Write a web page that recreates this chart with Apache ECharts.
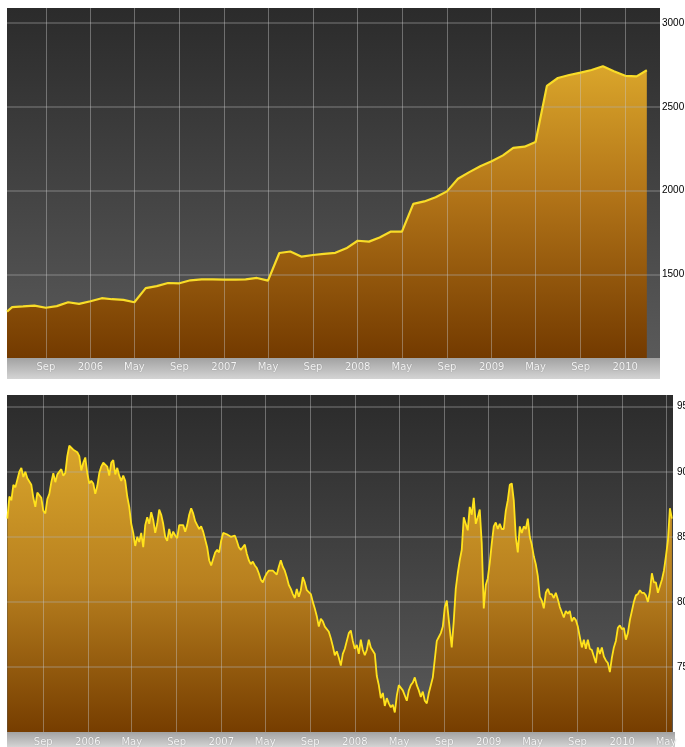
<!DOCTYPE html>
<html><head><meta charset="utf-8">
<script src="https://cdn.jsdelivr.net/npm/echarts@6/dist/echarts.min.js"></script>
<style>html,body{margin:0;padding:0;background:#fff}#c{width:685px;height:747px}</style>
</head><body><div id="c"></div>
<script>
// ---- data ----
const topRange = ['2005-05-18', '2010-04-06'];
const topFirstPoint = ['2005-05-18', 1277];
const topMonthlyStart = '2005-06-01';
const topMonthlyValues = [
  1304, 1308, 1313, 1300, 1310, 1333, 1323,
  1339, 1357, 1351, 1347, 1333, 1417, 1429, 1448, 1446, 1464, 1470, 1470,
  1468, 1468, 1470, 1478, 1462, 1627, 1636, 1605, 1615, 1622, 1628, 1655,
  1700, 1695, 1720, 1755, 1755, 1920, 1935, 1960, 1995, 2070, 2110, 2145,
  2175, 2210, 2255, 2262, 2290, 2625, 2672, 2690, 2704, 2720, 2742, 2712,
  2685, 2682, 2718
];
const topYTicks = [1500, 2000, 2500, 3000];

const bottomRange = ['2005-05-25', '2010-05-20'];
const bottomSegADates = ['2005-05-26', '2007-01-06'];
const bottomSegA = [
  86.4, 88.1, 87.8, 89.0, 88.8, 88.9, 90.0, 90.3, 89.6, 90.0,
  89.5, 89.6, 89.0, 88.0, 87.3, 88.4, 88.3, 88.0, 87.0, 86.8,
  87.9, 88.3, 89.2, 89.9, 89.2, 89.8, 89.8, 90.2, 89.7, 89.9,
  91.2, 92.0, 92.1, 91.7, 91.7, 91.5, 91.2, 90.1, 90.7, 91.1,
  89.9, 89.1, 89.3, 89.1, 88.3, 88.9, 89.9, 90.4, 90.7, 90.8,
  90.4, 89.7, 90.7, 90.9, 89.8, 90.3, 89.7, 89.3, 89.7, 89.3,
  88.1, 87.3, 86.0, 85.3, 84.3, 85.0, 84.6, 85.3, 84.2, 85.9,
  86.5, 86.0, 86.9, 86.3, 85.3, 86.0, 87.1, 86.7, 86.0, 85.0,
  84.7, 85.6, 84.9, 85.4, 85.1, 84.9, 85.9, 86.0, 85.9, 85.4,
  85.9, 86.7, 87.2, 86.8, 86.2, 85.9, 85.6, 85.8, 85.4, 85.5,
  84.2, 83.2, 82.8, 83.3, 83.8, 84.0, 83.8, 84.7, 85.3
];
const bottomSegBDates = ['2007-01-16', '2008-09-14'];
const bottomSegB = [
  85.2, 85.3, 85.0, 85.1, 85.1, 84.7, 84.2, 84.0, 84.2, 84.4,
  83.7, 83.2, 82.9, 83.1, 82.8, 82.6, 82.2, 81.7, 81.5, 81.9,
  82.2, 82.4, 82.3, 82.4, 82.4, 82.1, 82.7, 83.2, 82.7, 82.4,
  81.9, 81.3, 81.0, 80.6, 80.3, 81.0, 80.4, 80.9, 81.9, 81.5,
  80.9, 81.0, 80.6, 80.0, 79.5, 78.9, 78.1, 78.7, 78.5, 78.1,
  78.2, 77.7, 77.2, 76.6, 75.9, 76.2, 75.7, 75.1, 76.0, 76.4,
  76.5, 77.6, 77.8, 77.0, 76.4, 76.7, 76.0, 77.1, 76.3, 75.9,
  76.3, 77.1, 76.5, 76.5, 76.0, 74.3, 73.6, 72.6, 73.0, 72.0,
  72.6, 72.2, 71.9, 72.1, 71.5, 72.8, 73.6, 73.5, 73.2, 73.3,
  72.4, 73.2, 73.6, 73.8, 74.2, 73.6, 73.2, 72.7, 73.1, 72.4,
  72.2, 73.0, 73.6, 74.2, 75.6, 77.0, 77.3, 77.6, 78.1, 79.6,
  80.1, 78.6
];
const bottomSegCDates = ['2008-09-22', '2010-05-17'];
const bottomSegC = [
  76.5, 78.5, 81.0, 82.2, 83.2, 84.0, 86.5, 86.0, 85.5, 87.3,
  86.7, 88.0, 86.0, 86.5, 87.1, 84.5, 79.5, 81.3, 81.8, 83.0,
  84.5, 85.8, 86.1, 85.6, 86.0, 85.6, 85.6, 87.0, 87.8, 89.0,
  89.1, 87.8, 85.0, 83.8, 85.8, 85.3, 85.8, 85.6, 86.4, 85.0,
  84.4, 83.5, 82.9, 82.0, 80.4, 80.1, 79.5, 80.7, 81.0, 80.6,
  80.6, 80.3, 80.7, 80.2, 79.6, 79.2, 78.8, 79.3, 79.1, 79.3,
  78.5, 78.8, 78.6, 78.1, 77.3, 76.5, 77.1, 76.4, 77.1, 76.4,
  76.3, 75.8, 75.3, 76.5, 76.0, 76.5, 75.8, 75.5, 75.3, 74.6,
  75.7, 76.5, 77.0, 78.0, 78.2, 77.9, 78.0, 77.1, 77.6, 78.6,
  79.3, 80.0, 80.5, 80.6, 80.9, 80.7, 80.7, 80.5, 80.0, 80.8,
  82.2, 81.5, 81.5, 80.7, 81.2, 81.7, 82.4, 83.5, 84.7, 87.2,
  86.4
];
const bottomYTicks = [75, 80, 85, 90, 95];

const xTickDates = ['2005-09-01', '2006-01-01', '2006-05-01', '2006-09-01', '2007-01-01',
  '2007-05-01', '2007-09-01', '2008-01-01', '2008-05-01', '2008-09-01', '2009-01-01',
  '2009-05-01', '2009-09-01', '2010-01-01', '2010-05-01'];
const monthNames = ['Jan','Feb','Mar','Apr','May','Jun','Jul','Aug','Sep','Oct','Nov','Dec'];

// ---- helpers ----
function toTime(s) { const p = s.split('-').map(Number); return new Date(p[0], p[1] - 1, p[2]).getTime(); }
function spread(vals, range) {
  const t0 = toTime(range[0]), t1 = toTime(range[1]), n = vals.length;
  return vals.map((v, i) => [t0 + (t1 - t0) * i / (n - 1), v]);
}
const ms = toTime(topMonthlyStart), msd = new Date(ms);
const topData = [[toTime(topFirstPoint[0]), topFirstPoint[1]]].concat(
  topMonthlyValues.map((v, i) => [new Date(msd.getFullYear(), msd.getMonth() + i, 1).getTime(), v]));
const bottomData = spread(bottomSegA, bottomSegADates)
  .concat(spread(bottomSegB, bottomSegBDates))
  .concat(spread(bottomSegC, bottomSegCDates));
const xTicks = xTickDates.map(toTime);
const fmtX = v => { const d = new Date(v); return d.getMonth() === 0 ? String(d.getFullYear()) : monthNames[d.getMonth()]; };

const G = echarts.graphic.LinearGradient;
const gridTop = {left: 7, top: 8, width: 653, height: 350, outerBoundsMode: 'none', containLabel: false};
const gridBot = {left: 7, top: 395, width: 666, height: 337, outerBoundsMode: 'none', containLabel: false};

function xAxisCfg(idx, range, margin) {
  const lo = toTime(range[0]), hi = toTime(range[1]);
  const ticks = xTicks.filter(t => t >= lo && t <= hi);
  return {
    type: 'value', gridIndex: idx, min: lo, max: hi, z: 3,
    axisLine: {show: false},
    axisTick: {show: false, customValues: ticks},
    axisLabel: {customValues: ticks, formatter: fmtX, color: '#f6f6f6', fontSize: 10,
      fontFamily: 'DejaVu Sans', margin: margin, hideOverlap: false,
      showMinLabel: true, showMaxLabel: true,
      textShadowColor: 'rgba(0,0,0,0.35)', textShadowBlur: 1},
    splitLine: {show: true, lineStyle: {color: 'rgba(200,200,200,0.42)', width: 1}}
  };
}
function yAxisCfg(idx, min, max, ticks, margin) {
  return {
    type: 'value', gridIndex: idx, position: 'right', min: min, max: max, z: 3,
    axisLine: {show: false},
    axisTick: {show: false, customValues: ticks},
    axisLabel: {customValues: ticks, formatter: v => String(v), color: '#000', fontSize: 10,
      fontFamily: 'Liberation Sans', margin: margin},
    splitLine: {show: true, lineStyle: {color: 'rgba(175,175,175,0.4)', width: 1.5}}
  };
}

const chart = echarts.init(document.getElementById('c'));
chart.setOption({
  animation: false,
  backgroundColor: '#fff',
  graphic: [
    {type: 'rect', z: 0, shape: {x: 7, y: 8, width: 653, height: 350},
      style: {fill: new G(0, 0, 0, 1, [{offset: 0, color: '#2b2b2b'}, {offset: 1, color: '#5a5a5a'}])}},
    {type: 'rect', z: 0, shape: {x: 7, y: 358, width: 653, height: 21},
      style: {fill: new G(0, 0, 0, 1, [{offset: 0, color: '#a2a2a2'}, {offset: 1, color: '#d4d4d4'}])}},
    {type: 'rect', z: 0, shape: {x: 7, y: 395, width: 666, height: 337},
      style: {fill: new G(0, 0, 0, 1, [{offset: 0, color: '#2b2b2b'}, {offset: 1, color: '#5a5a5a'}])}},
    {type: 'rect', z: 0, shape: {x: 7, y: 732, width: 668, height: 15},
      style: {fill: new G(0, 0, 0, 1, [{offset: 0, color: '#a2a2a2'}, {offset: 1, color: '#d4d4d4'}])}}
  ],
  grid: [gridTop, gridBot],
  xAxis: [xAxisCfg(0, topRange, 4), xAxisCfg(1, bottomRange, 5)],
  yAxis: [yAxisCfg(0, 1000, 3090, topYTicks, 2), yAxisCfg(1, 70, 95.9, bottomYTicks, 4)],
  series: [
    {type: 'line', xAxisIndex: 0, yAxisIndex: 0, data: topData, symbol: 'none', z: 1,
      lineStyle: {width: 0},
      areaStyle: {opacity: 1, color: new G(0, 62, 0, 358, [{offset: 0, color: '#dba72b'}, {offset: 0.45, color: '#b27418'}, {offset: 1, color: '#733a00'}], true)}},
    {type: 'line', xAxisIndex: 0, yAxisIndex: 0, data: topData, symbol: 'none', z: 5,
      lineStyle: {color: '#f8dc28', width: 2.2}},
    {type: 'line', xAxisIndex: 1, yAxisIndex: 1, data: bottomData, symbol: 'none', z: 1,
      lineStyle: {width: 0},
      areaStyle: {opacity: 1, color: new G(0, 435, 0, 732, [{offset: 0, color: '#dba82c'}, {offset: 0.5, color: '#b8801f'}, {offset: 1, color: '#763d00'}], true)}},
    {type: 'line', xAxisIndex: 1, yAxisIndex: 1, data: bottomData, symbol: 'none', z: 5,
      lineStyle: {color: '#ffe21c', width: 1.8}}
  ]
});
</script></body></html>
